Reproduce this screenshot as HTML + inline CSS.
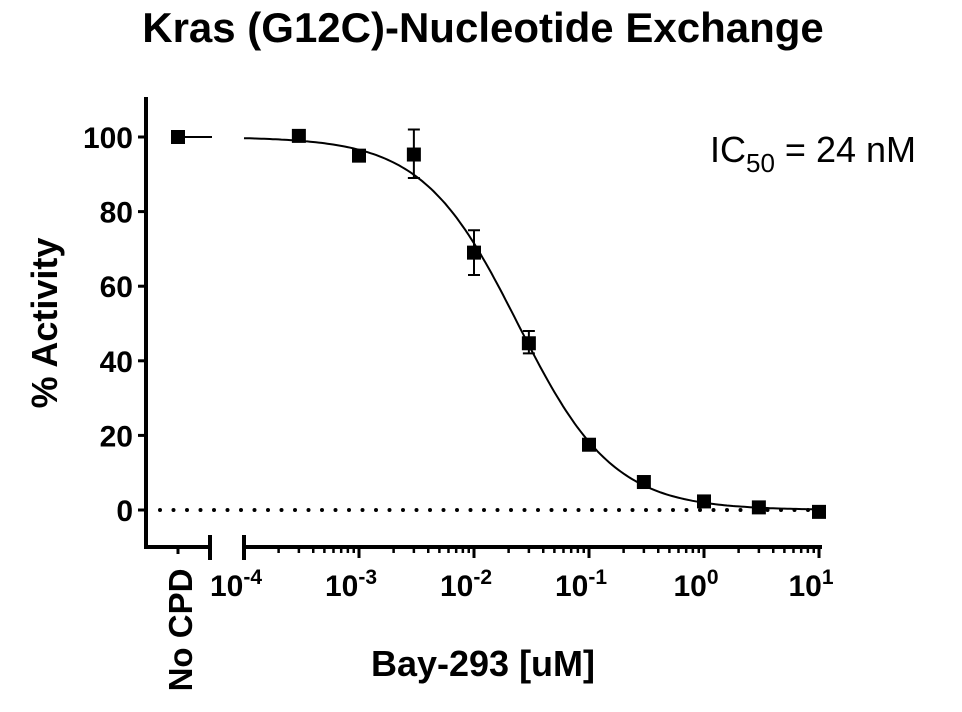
<!DOCTYPE html><html><head><style>body{margin:0;background:#fff}svg{display:block}text{font-family:"Liberation Sans",Arial,sans-serif;fill:#000}</style></head><body>
<svg id="s" width="962" height="712" xmlns="http://www.w3.org/2000/svg">
<text x="483" y="42" font-size="42" font-weight="bold" text-anchor="middle">Kras (G12C)-Nucleotide Exchange</text>
<text transform="translate(57,323) rotate(-90)" font-size="36" font-weight="bold" text-anchor="middle">% Activity</text>
<text x="483" y="676" font-size="36" font-weight="bold" text-anchor="middle">Bay-293 [uM]</text>
<text transform="translate(192,630) rotate(-90)" font-size="33" font-weight="bold" text-anchor="middle">No CPD</text>
<text x="710" y="162" font-size="36">IC<tspan font-size="26" dy="10">50</tspan><tspan dy="-10"> = 24 nM</tspan></text>
<g stroke="#000" stroke-width="4" fill="none">
<path d="M146 97V547H210M210 535V560M244 535V560M244 547H822"/>
</g>
<g id="g"></g>
</svg>
<script>
var g=document.getElementById('g'),h='';
function Y(v){return 510-v*3.73}function X(c){return 244+115*(Math.log10(c)+4)}
for(var v=0;v<=100;v+=20){h+='<line x1="138" x2="146" y1="'+Y(v)+'" y2="'+Y(v)+'" stroke="#000" stroke-width="3"/>';
h+='<text x="133" y="'+(Y(v)+11)+'" font-size="30" font-weight="bold" text-anchor="end">'+v+'</text>';}
h+='<line x1="178" x2="178" y1="547" y2="554" stroke="#000" stroke-width="3"/>';
for(var e=-4;e<=1;e++){var x=X(Math.pow(10,e));h+='<line x1="'+x+'" x2="'+x+'" y1="547" y2="558" stroke="#000" stroke-width="3"/>';
h+='<text x="'+(x-8)+'" y="596" font-size="30" font-weight="bold" text-anchor="middle">10<tspan font-size="21" dy="-12">'+e+'</tspan></text>';
if(e<1)for(var m=2;m<10;m++){var xm=X(m*Math.pow(10,e));h+='<line x1="'+xm+'" x2="'+xm+'" y1="547" y2="553" stroke="#000" stroke-width="2.5"/>';}}
h+='<line x1="160" x2="822" y1="510" y2="510" stroke="#000" stroke-width="4" stroke-dasharray="0 13.5" stroke-linecap="round"/>';
h+='<line x1="178" x2="212" y1="137" y2="137" stroke="#000" stroke-width="2"/>';
var p='';for(var i=0;i<=200;i++){var lc=-4+5*i/200,c=Math.pow(10,lc),y=100/(1+Math.pow(c/0.024,1.05));p+=(i?'L':'M')+X(c).toFixed(1)+' '+Y(y).toFixed(1);}
h+='<path d="'+p+'" stroke="#000" stroke-width="2" fill="none"/>';
var d=[[null,100],[3e-4,100.3],[1e-3,95],[3e-3,95.3,89,102],[1e-2,69,63,75],[3e-2,44.7,42,48],[0.1,17.5],[0.3,7.5],[1,2.3],[3,0.7],[10,-0.5]];
d.forEach(function(q){var x=q[0]?X(q[0]):178,y=Y(q[1]);
if(q[2]!=null){h+='<path d="M'+x+' '+Y(q[2])+'V'+Y(q[3])+'M'+(x-6)+' '+Y(q[2])+'h12M'+(x-6)+' '+Y(q[3])+'h12" stroke="#000" stroke-width="2"/>';}
h+='<rect x="'+(x-7)+'" y="'+(y-7)+'" width="14" height="14" fill="#000"/>';});
g.innerHTML=h;
</script>
</body></html>
